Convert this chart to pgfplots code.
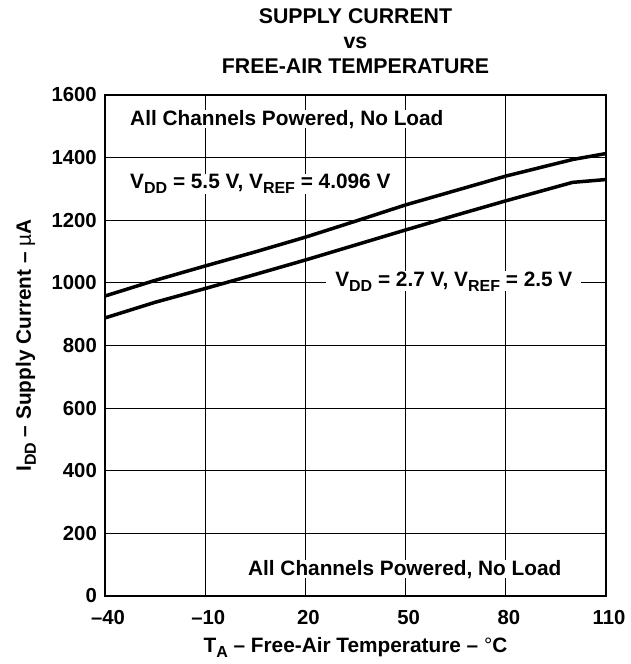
\documentclass[border=0pt]{standalone}
\usepackage{pgfplots}
\pgfplotsset{compat=1.18}
\usepackage{fontspec}
\setmainfont{Liberation Sans}
\newcommand\sub[1]{\raisebox{-5pt}{\fontsize{16}{16}\selectfont #1}}
\newcommand\lblfont{\fontsize{20.8}{25}\selectfont\bfseries}
\newcommand\tickfont{\fontsize{20.3}{25}\selectfont\bfseries}
\newcommand\titlefont{\fontsize{21.3}{25}\selectfont\bfseries}
\begin{document}
\begin{tikzpicture}
\path[use as bounding box] (-105pt,-68pt) rectangle (526pt,596pt);
\begin{axis}[
    at={(0pt,0pt)}, anchor=south west,
    scale only axis,
    width=501pt, height=501pt,
    xmin=-40, xmax=110,
    ymin=0, ymax=1600,
    xtick={-40,-10,20,50,80,110},
    xticklabels={--40,--10,20,50,80,110},
    ytick={0,200,...,1600},
    yticklabels={0,200,400,600,800,1000,1200,1400,1600},
    major tick length=0pt,
    grid=major,
    major grid style={black, line width=0.9pt},
    axis line style={line width=2.8pt},
    tick label style={font=\tickfont, inner sep=0pt},
    xticklabel style={yshift=-14pt, xshift=3pt},
    yticklabel style={xshift=-8pt},
    title={SUPPLY CURRENT\\vs\\FREE-AIR TEMPERATURE},
    title style={font=\titlefont, align=center, inner sep=0pt,
        at={([yshift=15pt]axis description cs:0.5,1)}, anchor=south},
    xlabel={T\sub{A} -- Free-Air Temperature -- {\mdseries °}C},
    xlabel style={font=\lblfont, at={([yshift=-56pt]axis description cs:0.5,0)}, anchor=base},
    ylabel={I\sub{DD} -- Supply Current -- {\mdseries µ}A},
    ylabel style={font=\lblfont, at={([xshift=-74pt]axis description cs:0,0.5)}, anchor=base},
    clip=false
]
\addplot[black, line width=3.5pt] coordinates {
    (-40,958) (-25,1008) (-10,1054) (5,1099) (20,1146) (35,1197)
    (50,1249) (65,1295) (80,1341) (100,1394) (110,1413)};
\addplot[black, line width=3.5pt] coordinates {
    (-40,888) (-25,938) (-10,982) (5,1027) (20,1073) (35,1121)
    (50,1169) (65,1216) (80,1262) (100,1321) (110,1330)};

\node[font=\lblfont, fill=white, inner sep=0pt, anchor=base west] at (axis cs:-32.5,1504) {All Channels Powered, No Load};
\node[font=\lblfont, fill=white, inner sep=0pt, anchor=base west] at (axis cs:-32.5,1300) {V\sub{DD} = 5.5 V, V\sub{REF} = 4.096 V};
\node[font=\lblfont, fill=white, inner xsep=9pt, inner ysep=0pt, anchor=base west] at (axis cs:26.2,990) {V\sub{DD} = 2.7 V, V\sub{REF} = 2.5 V};
\node[font=\lblfont, fill=white, inner sep=0pt, anchor=base west] at (axis cs:2.8,67) {All Channels Powered, No Load};
\end{axis}
\end{tikzpicture}
\end{document}
